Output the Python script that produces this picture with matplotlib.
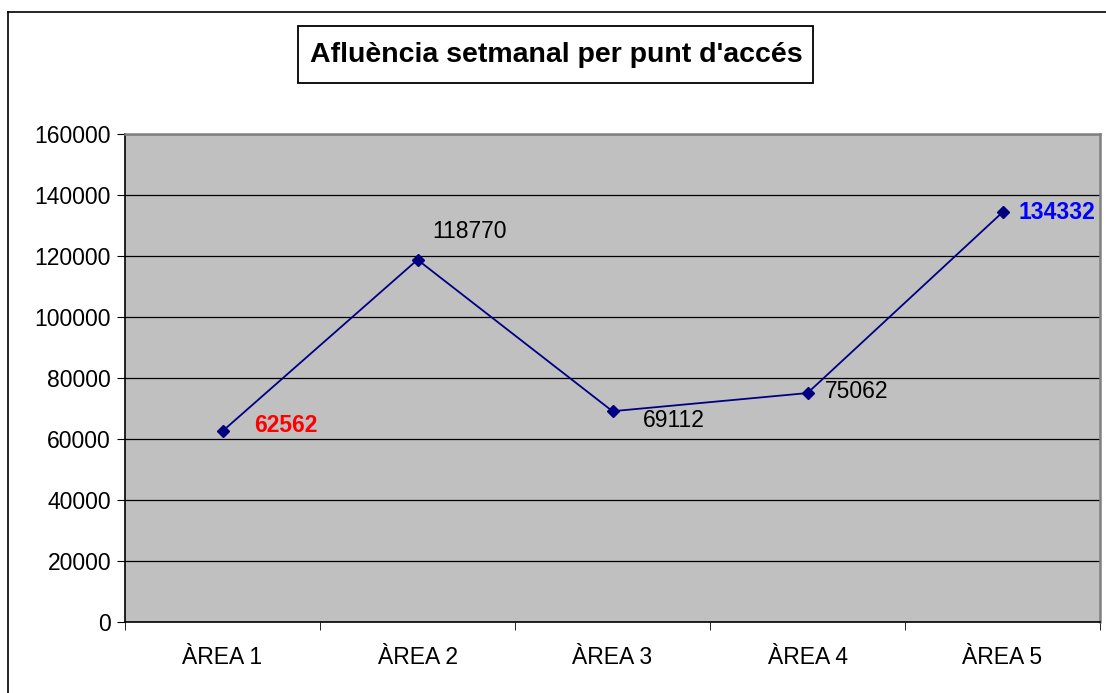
import matplotlib
matplotlib.use('Agg')
import matplotlib.pyplot as plt
from matplotlib.lines import Line2D
from matplotlib.patches import Rectangle

plt.rcParams['font.family'] = ['Liberation Sans', 'DejaVu Sans']

# Data
areas = ['ÀREA 1', 'ÀREA 2', 'ÀREA 3', 'ÀREA 4', 'ÀREA 5']
visits = [62562, 118770, 69112, 75062, 134332]
label_colors = ['#FF0000', 'black', 'black', 'black', '#0000FF']
label_weights = ['bold', 'normal', 'normal', 'normal', 'bold']
label_offsets = [(32, 6), (15, 28), (30, -9), (17, 2), (16, 0)]
yticks = [0, 20000, 40000, 60000, 80000, 100000, 120000, 140000, 160000]

W, H = 1106, 693
fig = plt.figure(figsize=(W / 100, H / 100), dpi=100)
ax = fig.add_axes([125 / W, 71 / H, 975 / W, 488 / H])
ax.set_facecolor('#C0C0C0')

x = list(range(len(areas)))
ax.plot(x, visits, color='#000080', lw=1.3, marker='D', markersize=6.5,
        markerfacecolor='#000080', markeredgecolor='#000080', zorder=3)

for i, v in enumerate(visits):
    ax.annotate(str(v), (i, v), xytext=label_offsets[i], textcoords='offset pixels',
                ha='left', va='center', fontsize=16.5, color=label_colors[i],
                fontweight=label_weights[i])

ax.set_xlim(-0.5, len(areas) - 0.5)
ax.set_ylim(0, 160000)
ax.set_yticks(yticks)
ax.set_yticklabels([str(t) for t in yticks], fontsize=16.5)
ax.yaxis.grid(True, color='black', lw=0.9)
ax.set_axisbelow(True)

ax.set_xticks(x)
ax.set_xticklabels(areas, fontsize=16.5)
ax.set_xticks([i - 0.5 for i in range(len(areas) + 1)], minor=True)
ax.tick_params(axis='x', which='major', length=0, pad=17)
ax.tick_params(axis='x', which='minor', length=6, direction='out', color='black')
ax.tick_params(axis='y', length=6, direction='out', pad=4)

for side in ['left', 'bottom']:
    ax.spines[side].set_color('black')
    ax.spines[side].set_linewidth(1.2)
for side in ['top', 'right']:
    ax.spines[side].set_color('#808080')
    ax.spines[side].set_linewidth(1.8)

# Title in a box
fig.add_artist(Rectangle((298 / W, 1 - 83 / H), 515 / W, 57 / H, transform=fig.transFigure,
                         facecolor='white', edgecolor='black', lw=1.3))
fig.text(556 / W, 1 - 55 / H, "Afluència setmanal per punt d'accés",
         ha='center', va='center', fontsize=20.5, fontweight='bold')

# Chart area border (left and top visible)
fig.add_artist(Line2D([8 / W, 8 / W], [0, 1 - 12 / H], color='black', lw=1.2,
                      transform=fig.transFigure))
fig.add_artist(Line2D([8 / W, 1], [1 - 12 / H, 1 - 12 / H], color='black', lw=1.2,
                      transform=fig.transFigure))

fig.savefig('out.png', dpi=100)
